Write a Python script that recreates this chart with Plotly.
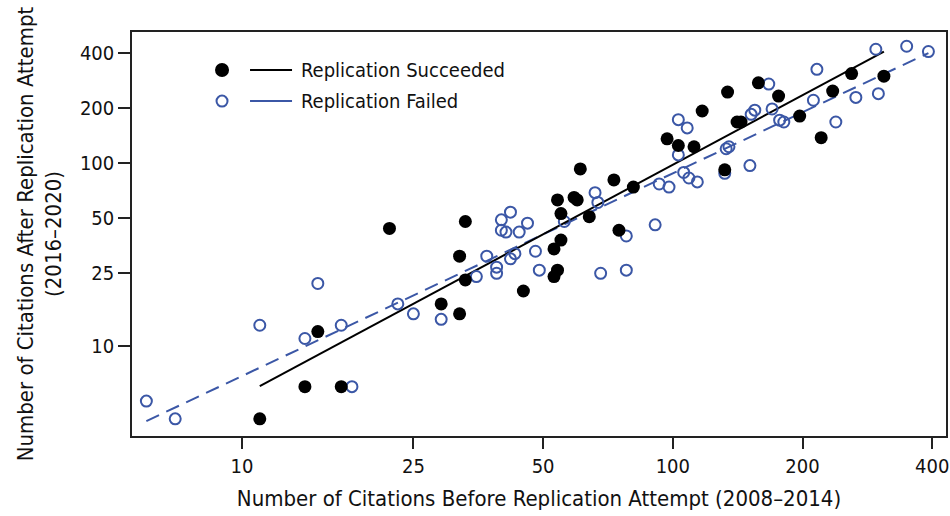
import numpy as np
import plotly.graph_objects as go

# ---- data: citations before (2008-2014) and after (2016-2020) replication attempt
succ_before = [11, 14, 15, 17, 22, 29, 32, 32, 33, 33, 45, 53, 54, 53, 55, 54, 55, 61, 59, 60,
               64, 73, 75, 81, 97, 103, 112, 117, 134, 141, 144, 132, 158, 176, 197, 221, 235, 260, 309]
succ_after = [4, 6, 12, 6, 44, 17, 15, 31, 23, 48, 20, 24, 26, 34, 38, 63, 53, 93, 65, 63,
              51, 81, 43, 74, 136, 125, 123, 193, 245, 168, 168, 92, 275, 233, 181, 138, 248, 309, 299]

fail_before = [6, 7, 11, 15, 14, 17, 18, 23, 25, 29, 35, 37, 39, 39, 40, 40, 41, 42, 42, 43,
               44, 46, 48, 49, 56, 66, 67, 68, 78, 78, 91, 93, 98, 103, 103, 108, 106, 109, 114, 133,
               135, 132, 151, 152, 155, 167, 170, 177, 181, 216, 212, 239, 266, 296, 300, 349, 392]
fail_after = [5, 4, 13, 22, 11, 13, 6, 17, 15, 14, 24, 31, 27, 25, 49, 43, 42, 54, 30, 32,
              42, 47, 33, 26, 48, 69, 61, 25, 40, 26, 46, 77, 74, 111, 173, 156, 89, 83, 79, 120,
              123, 88, 97, 185, 195, 271, 198, 172, 168, 326, 221, 168, 229, 420, 240, 436, 408]

tick_vals = [10, 25, 50, 100, 200, 400]
tick_text = ["10", "25", "50", "100", "200", "400"]

legend_labels = ["Replication Succeeded", "Replication Failed"]

BLACK = "#000000"
BLUE = "#3b57a6"
FONT = "DejaVu Sans Condensed, Liberation Sans, sans-serif"


def loglog_fit(xs, ys):
    lx, ly = np.log10(xs), np.log10(ys)
    b, a = np.polyfit(lx, ly, 1)
    xr = np.array([min(xs), max(xs)], dtype=float)
    return xr, 10 ** (a + b * np.log10(xr))


fig = go.Figure()

sx, sy = loglog_fit(succ_before, succ_after)
fx, fy = loglog_fit(fail_before, fail_after)

fig.add_trace(go.Scatter(x=fx, y=fy, mode="lines",
                         line=dict(color=BLUE, width=2, dash="14px,8px"), showlegend=False))
fig.add_trace(go.Scatter(x=sx, y=sy, mode="lines",
                         line=dict(color=BLACK, width=2), showlegend=False))
fig.add_trace(go.Scatter(x=fail_before, y=fail_after, mode="markers", name=legend_labels[1],
                         marker=dict(symbol="circle-open", size=11, color=BLUE, line=dict(width=2, color=BLUE)),
                         showlegend=False))
fig.add_trace(go.Scatter(x=succ_before, y=succ_after, mode="markers", name=legend_labels[0],
                         marker=dict(symbol="circle", size=13, color=BLACK, line=dict(width=0)),
                         showlegend=False))

# ---- hand-built legend (marker, line sample, label) in paper coordinates
rows = [(0.906, BLACK, "circle", legend_labels[0]),
        (0.829, BLUE, "circle-open", legend_labels[1])]
for yp, col, sym, lab in rows:
    if sym == "circle":
        fig.add_shape(type="circle", xref="paper", yref="paper", xsizemode="pixel", ysizemode="pixel",
                      xanchor=0.1106, yanchor=yp, x0=-7, x1=7, y0=-7, y1=7,
                      fillcolor=col, line=dict(color=col, width=0))
    else:
        fig.add_shape(type="circle", xref="paper", yref="paper", xsizemode="pixel", ysizemode="pixel",
                      xanchor=0.1106, yanchor=yp, x0=-5.5, x1=5.5, y0=-5.5, y1=5.5,
                      fillcolor="rgba(0,0,0,0)", line=dict(color=col, width=2))
    fig.add_shape(type="line", xref="paper", yref="paper", x0=0.145, x1=0.1966, y0=yp, y1=yp,
                  line=dict(color=col, width=2))
    fig.add_annotation(x=0.2055, y=yp, xref="paper", yref="paper", text=lab, showarrow=False,
                       xanchor="left", yanchor="middle", font=dict(size=20, color="#111", family=FONT))

axis_common = dict(type="log", showgrid=False, zeroline=False, showline=True, linecolor="#222",
                   linewidth=1.5, mirror=True, ticks="outside", tickwidth=1.5, tickcolor="#222",
                   tickvals=tick_vals, ticktext=tick_text, automargin=False,
                   tickfont=dict(size=20, color="#111", family=FONT))

fig.update_layout(
    width=950, height=516,
    margin=dict(l=132, r=4, t=32, b=80),
    paper_bgcolor="white", plot_bgcolor="white",
    font=dict(family=FONT, color="#111"),
    xaxis=dict(axis_common, range=[0.7448, 2.6341], ticklen=11,
               title=dict(text="Number of Citations Before Replication Attempt (2008–2014)",
                          font=dict(size=22, family=FONT, color="#111"), standoff=14)),
    yaxis=dict(axis_common, range=[0.5082, 2.7175], ticklen=12,
               title=dict(text="Number of Citations After Replication Attempt<br>(2016–2020)",
                          font=dict(size=22, family=FONT, color="#111"), standoff=12)),
    showlegend=False,
)

# remove the default 8px page margin so the figure sits at the window's top-left corner
fig.write_html("out.html", config={"displayModeBar": False},
               post_script="document.body.style.margin='0';document.body.style.overflow='hidden';")
